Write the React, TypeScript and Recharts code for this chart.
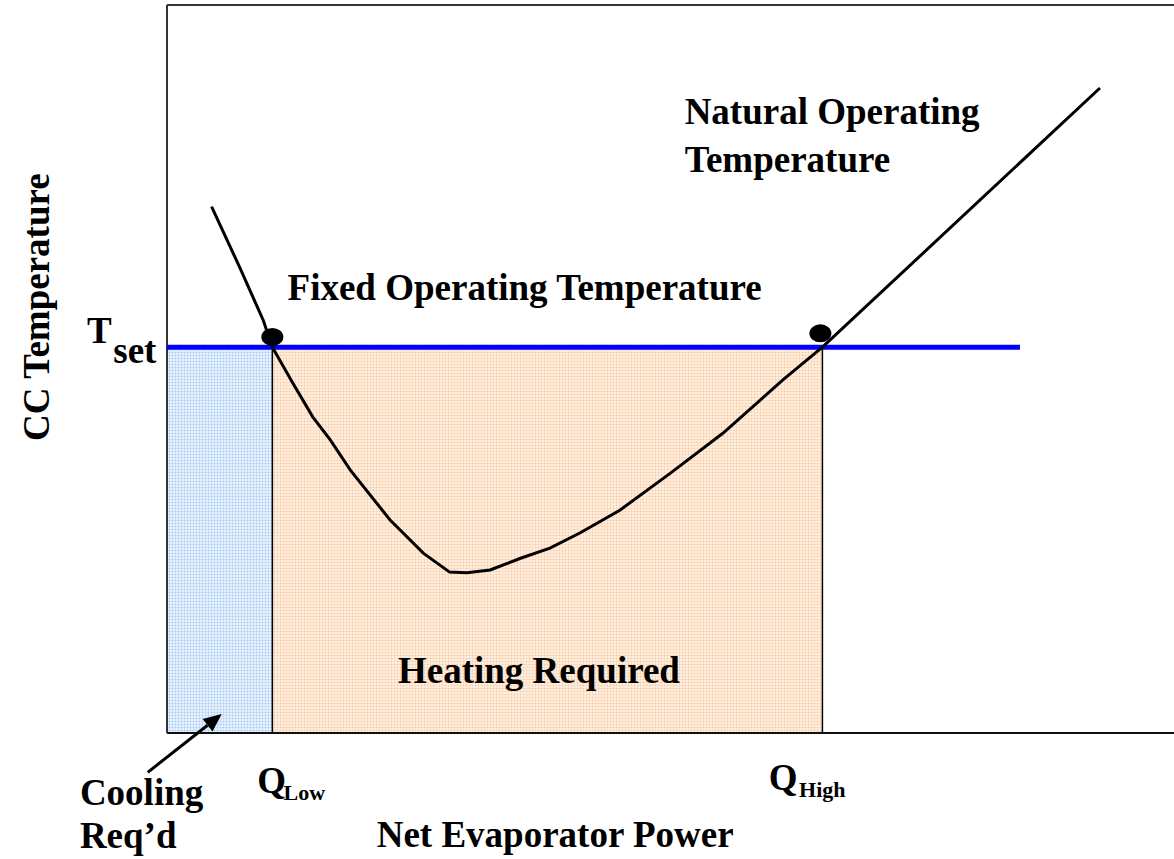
import React from "react";
import {
  ComposedChart,
  Line,
  Scatter,
  XAxis,
  YAxis,
  ReferenceArea,
  ReferenceLine,
  ReferenceDot,
} from "recharts";

// curve: CC temperature vs net evaporator power (arbitrary units 0..100)
const curveX = [4.4, 7.2, 9.5, 10.4, 12.4, 14.4, 16.1, 18.1, 22.0, 25.3, 27.9, 29.6, 31.9, 34.9, 37.8, 40.8, 44.7, 49.7, 54.9, 60.8, 64.7, 92.1];
const curveY = [72.3, 63.9, 56.7, 53.0, 48.1, 43.4, 40.3, 36.1, 29.3, 24.7, 22.1, 22.0, 22.4, 24.0, 25.4, 27.5, 30.6, 35.7, 41.2, 48.5, 53.0, 88.6];

const tSet = 53.0;
const qLow = 10.4;
const qHigh = 64.7;
const setLineEnd = 84.2;

const dotX = [10.4, 64.5];
const dotY = [54.4, 54.9];

const noteText = ["Natural Operating", "Temperature", "Fixed Operating Temperature", "Heating Required", "T", "set", "Q", "Low", "Q", "High", "Cooling", "Req\u2019d", "Net Evaporator Power"];
const noteX = [51.1, 51.1, 11.9, 22.8, -7.9, -5.3, 8.9, 11.5, 59.4, 62.4, -8.6, -8.6, 20.7];
const noteY = [83.6, 77.1, 59.5, 6.9, 53.6, 50.8, -8.2, -9.2, -7.8, -8.8, -9.9, -15.8, -15.7];
const noteSize = [37, 37, 37, 37, 37, 37, 37, 22, 37, 22, 37, 37, 37];

const yTitle = "CC  Temperature";
const arrowFrom = { x: -1.9, y: -5.4 };
const arrowTo = { x: 5.4, y: 2.6 };

const curve = curveX.map((x, i) => ({ x, y: curveY[i] }));
const dots = dotX.map((x, i) => ({ x, y: dotY[i] }));

const FONT = '"Liberation Serif", "Times New Roman", serif';

const Ellipse = (p: any) => <ellipse cx={p.cx} cy={p.cy} rx={11} ry={9} fill="#000" />;

const Arrow = (p: any) => {
  const { x1, y1, x2, y2 } = p;
  const a = Math.atan2(y2 - y1, x2 - x1);
  const len = 18;
  const w = 8;
  const bx = x2 - len * Math.cos(a);
  const by = y2 - len * Math.sin(a);
  const px = -Math.sin(a) * w;
  const py = Math.cos(a) * w;
  return (
    <g>
      <line x1={x1} y1={y1} x2={bx} y2={by} stroke="#000" strokeWidth={3} />
      <polygon points={`${x2},${y2} ${bx + px},${by + py} ${bx - px},${by - py}`} fill="#000" />
    </g>
  );
};

export default function App() {
  return (
    <div style={{ position: "absolute", left: 0, top: 0, width: 1174, height: 859, overflow: "hidden", background: "#fff" }}>
      <ComposedChart width={1190} height={859} data={curve} margin={{ top: 5, right: 10, bottom: 126, left: 167 }}>
        <defs>
          <pattern id="blueDots" width={3} height={3} patternUnits="userSpaceOnUse">
            <rect width={3} height={3} fill="#eaf3fd" />
            <circle cx={1.5} cy={1.5} r={1} fill="#a9cdf5" />
          </pattern>
          <pattern id="orangeDots" width={3} height={3} patternUnits="userSpaceOnUse">
            <rect width={3} height={3} fill="#fff2e6" />
            <circle cx={1.5} cy={1.5} r={1} fill="#fac9a0" />
          </pattern>
        </defs>
        <XAxis type="number" dataKey="x" domain={[0, 100]} tick={false} tickLine={false} height={0}
          axisLine={false} allowDataOverflow />
        <YAxis type="number" dataKey="y" domain={[0, 100]} tick={false} tickLine={false} width={0}
          axisLine={false} allowDataOverflow />
        <ReferenceArea x1={0} x2={qLow} y1={0} y2={tSet} fill="url(#blueDots)" fillOpacity={1} stroke="none" />
        <ReferenceArea x1={qLow} x2={qHigh} y1={0} y2={tSet} fill="url(#orangeDots)" fillOpacity={1} stroke="none" />
        <ReferenceLine y={100} stroke="#333" strokeWidth={2} />
        <ReferenceLine y={0} stroke="#111" strokeWidth={2} />
        <ReferenceLine x={0} stroke="#333" strokeWidth={2} />
        <ReferenceLine segment={[{ x: qLow, y: 0 }, { x: qLow, y: tSet }]} stroke="#000" strokeWidth={1.5} />
        <ReferenceLine segment={[{ x: qHigh, y: 0 }, { x: qHigh, y: tSet }]} stroke="#000" strokeWidth={1.5} />
        <ReferenceLine segment={[{ x: 0, y: tSet }, { x: setLineEnd, y: tSet }]} stroke="#0000ff" strokeWidth={5} />
        <Line type="linear" dataKey="y" stroke="#000" strokeWidth={3} dot={false} isAnimationActive={false} />
        <Scatter data={dots} dataKey="y" shape={Ellipse} isAnimationActive={false} />
        <ReferenceLine segment={[arrowFrom, arrowTo]} ifOverflow="visible" shape={Arrow} />
        {noteText.map((t, i) => (
          <ReferenceDot key={i} x={noteX[i]} y={noteY[i]} r={0} ifOverflow="visible"
            shape={(p: any) => (
              <text x={p.cx} y={p.cy} fontFamily={FONT} fontWeight="bold" fontSize={noteSize[i]} fill="#000">{t}</text>
            )} />
        ))}
        <ReferenceDot x={-12.9} y={58.5} r={0} ifOverflow="visible"
          shape={(p: any) => (
            <text x={p.cx} y={p.cy} transform={`rotate(-90, ${p.cx}, ${p.cy})`} textAnchor="middle" dominantBaseline="central"
              fontFamily={FONT} fontWeight="bold" fontSize={37} fill="#000">{yTitle}</text>
          )} />
      </ComposedChart>
    </div>
  );
}
